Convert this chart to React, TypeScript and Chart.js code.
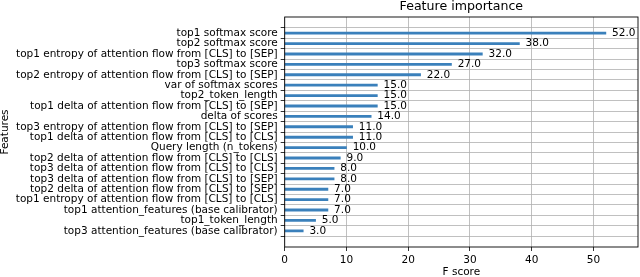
import React, { useEffect, useRef } from 'react';
import { Chart, registerables } from 'chart.js';
Chart.register(...registerables);

// Features listed top to bottom
const features = [
  'top1 softmax score',
  'top2 softmax score',
  'top1 entropy of attention flow from [CLS] to [SEP]',
  'top3 softmax score',
  'top2 entropy of attention flow from [CLS] to [SEP]',
  'var of softmax scores',
  'top2_token_length',
  'top1 delta of attention flow from [CLS] to [SEP]',
  'delta of scores',
  'top3 entropy of attention flow from [CLS] to [SEP]',
  'top1 delta of attention flow from [CLS] to [CLS]',
  'Query length (n_tokens)',
  'top2 delta of attention flow from [CLS] to [CLS]',
  'top3 delta of attention flow from [CLS] to [CLS]',
  'top3 delta of attention flow from [CLS] to [SEP]',
  'top2 delta of attention flow from [CLS] to [SEP]',
  'top1 entropy of attention flow from [CLS] to [CLS]',
  'top1 attention_features (base calibrator)',
  'top1_token_length',
  'top3 attention_features (base calibrator)',
];
const scores = [52, 38, 32, 27, 22, 15, 15, 15, 14, 11, 11, 10, 9, 8, 8, 7, 7, 7, 5, 3];
const xTickValues = [0, 10, 20, 30, 40, 50];
const xMax = 57.2;
const chartTitle = 'Feature importance';
const xTitle = 'F score';
const yTitle = 'Features';

export default function App() {
  const ref = useRef<HTMLCanvasElement>(null);
  useEffect(() => {
    document.body.style.margin = '0';
    const n = features.length;
    const points = scores.map((v, i) => ({ x: v, y: n - 1 - i }));
    const FAMILY = 'DejaVu Sans';
    const FS = 10.5;
    const deco = {
      id: 'deco',
      afterDraw(chart: any) {
        const { ctx, chartArea: a, scales } = chart;
        const x = scales.x, y = scales.y;
        ctx.save();
        ctx.fillStyle = '#000';
        ctx.font = `${FS}px "${FAMILY}"`;
        ctx.textBaseline = 'middle';
        ctx.textAlign = 'left';
        points.forEach((p) => {
          ctx.fillText(p.x.toFixed(1), x.getPixelForValue(p.x + 1), y.getPixelForValue(p.y));
        });
        // frame
        ctx.strokeStyle = '#000';
        ctx.lineWidth = 0.9;
        ctx.strokeRect(a.left, a.top, a.right - a.left, a.bottom - a.top);
        // titles
        ctx.textAlign = 'center';
        ctx.font = `${FS * 1.2}px "${FAMILY}"`;
        ctx.fillText(chartTitle, (a.left + a.right) / 2, 7);
        ctx.font = `${FS}px "${FAMILY}"`;
        ctx.fillText(xTitle, (a.left + a.right) / 2, 272.5);
        ctx.translate(5, (a.top + a.bottom) / 2);
        ctx.rotate(-Math.PI / 2);
        ctx.fillText(yTitle, 0, 0);
        ctx.restore();
      },
    };
    const chart = new Chart(ref.current as HTMLCanvasElement, {
      type: 'bar',
      data: {
        datasets: [
          {
            data: points as any,
            backgroundColor: '#3a80bb',
            borderWidth: 0,
            barThickness: 2.2,
          },
        ],
      },
      options: {
        indexAxis: 'y',
        responsive: false,
        animation: false,
        layout: { padding: { top: 17, right: 2, left: 0, bottom: 0 } },
        plugins: { legend: { display: false }, tooltip: { enabled: false }, title: { display: false } },
        scales: {
          x: {
            type: 'linear',
            min: 0,
            max: xMax,
            afterBuildTicks: (s: any) => {
              s.ticks = xTickValues.map((v) => ({ value: v }));
            },
            afterFit: (s: any) => {
              s.height = 30;
            },
            border: { display: false },
            grid: { color: '#b0b0b0', lineWidth: 0.8, tickLength: 4, tickColor: '#000', drawTicks: true },
            ticks: { color: '#000', font: { family: FAMILY, size: FS }, padding: 3, maxRotation: 0 },
          },
          y: {
            type: 'linear',
            min: -1,
            max: n,
            afterBuildTicks: (s: any) => {
              s.ticks = features.map((_, i) => ({ value: i }));
            },
            afterFit: (s: any) => {
              s.width = 284.7;
            },
            border: { display: false },
            grid: { color: '#b0b0b0', lineWidth: 0.8, tickLength: 4, tickColor: '#000', drawTicks: true },
            ticks: {
              color: '#000',
              font: { family: FAMILY, size: FS },
              padding: 3,
              autoSkip: false,
              callback: (v: any) => {
                const i = Math.round(Number(v));
                return i >= 0 && i < n ? features[n - 1 - i] : '';
              },
            },
          },
        },
      },
      plugins: [deco],
    });
    return () => chart.destroy();
  }, []);
  return (
    <div style={{ width: 640, height: 277 }}>
      <canvas ref={ref} width={640} height={277} style={{ display: 'block' }} />
    </div>
  );
}
